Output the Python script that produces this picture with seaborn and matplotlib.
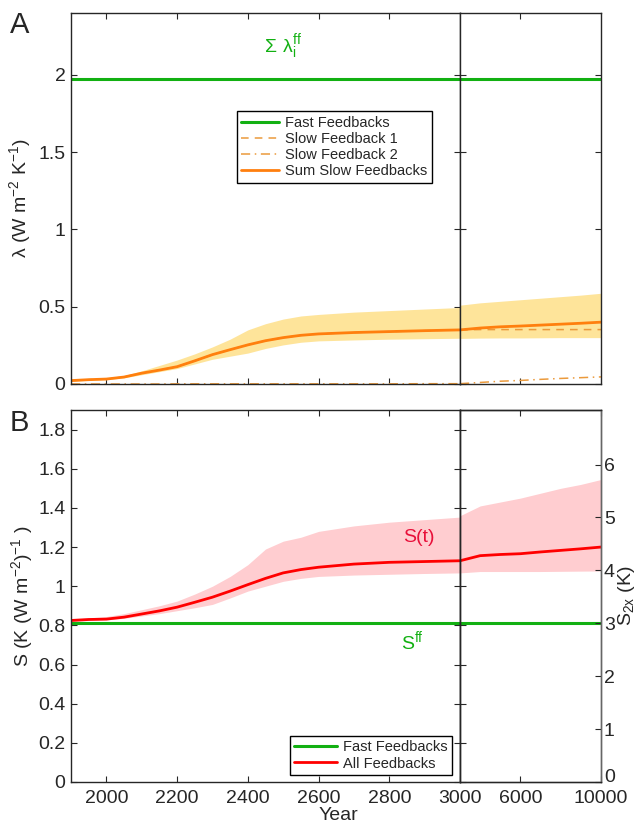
import numpy as np
import pandas as pd
import matplotlib
matplotlib.use('Agg')
import matplotlib.pyplot as plt
import matplotlib.transforms as mtransforms
import seaborn as sns

# ---------------- data ----------------
years_left = [1900, 1950, 2000, 2050, 2100, 2150, 2200, 2250, 2300, 2350,
              2400, 2450, 2500, 2550, 2600, 2700, 2800, 2900, 3000]
years_right = [3000, 4000, 5000, 6000, 7000, 8000, 9000, 10000]

lam_fast = 1.97
lam_sum_left = [0.022, 0.028, 0.032, 0.045, 0.070, 0.090, 0.112, 0.150, 0.190, 0.222,
                0.253, 0.280, 0.300, 0.315, 0.324, 0.333, 0.339, 0.345, 0.350]
lam_hi_left = [0.025, 0.032, 0.040, 0.055, 0.085, 0.120, 0.155, 0.195, 0.240, 0.290,
               0.350, 0.390, 0.420, 0.440, 0.450, 0.465, 0.475, 0.485, 0.495]
lam_lo_left = [0.017, 0.024, 0.028, 0.040, 0.060, 0.080, 0.100, 0.130, 0.160, 0.180,
               0.200, 0.230, 0.253, 0.270, 0.279, 0.285, 0.290, 0.293, 0.296]
slow1_left = lam_sum_left
slow2_left = [0.0, 0.0, 0.0, 0.0, 0.0, 0.0, 0.001, 0.001, 0.001, 0.001,
              0.001, 0.001, 0.001, 0.001, 0.001, 0.001, 0.001, 0.002, 0.002]

lam_sum_right = [0.350, 0.362, 0.370, 0.375, 0.381, 0.387, 0.393, 0.400]
lam_hi_right = [0.510, 0.525, 0.535, 0.545, 0.555, 0.565, 0.575, 0.587]
lam_lo_right = [0.295, 0.297, 0.298, 0.298, 0.299, 0.300, 0.300, 0.300]
slow1_right = [0.350, 0.352, 0.352, 0.352, 0.352, 0.352, 0.352, 0.352]
slow2_right = [0.002, 0.010, 0.018, 0.023, 0.030, 0.036, 0.041, 0.046]

S_fast = 0.81
S_left = [0.825, 0.830, 0.832, 0.842, 0.858, 0.874, 0.893, 0.918, 0.944, 0.975,
          1.008, 1.040, 1.068, 1.085, 1.097, 1.113, 1.122, 1.126, 1.130]
S_hi_left = [0.830, 0.838, 0.845, 0.860, 0.880, 0.900, 0.924, 0.960, 1.000, 1.050,
             1.110, 1.190, 1.230, 1.250, 1.280, 1.308, 1.327, 1.340, 1.353]
S_lo_left = [0.820, 0.825, 0.828, 0.836, 0.848, 0.860, 0.875, 0.890, 0.907, 0.940,
             0.975, 1.000, 1.025, 1.040, 1.050, 1.057, 1.061, 1.065, 1.068]
S_right = [1.130, 1.156, 1.162, 1.166, 1.175, 1.183, 1.191, 1.200]
S_hi_right = [1.360, 1.410, 1.430, 1.450, 1.475, 1.500, 1.520, 1.545]
S_lo_right = [1.068, 1.075, 1.075, 1.075, 1.075, 1.076, 1.077, 1.078]

F2x = 3.7  # conversion to S_2x (K)

left_ticks = [2000, 2200, 2400, 2600, 2800, 3000]
right_ticks = [6000, 10000]

# ---------------- style ----------------
sns.set_style('ticks')
plt.rcParams['font.family'] = ['Liberation Sans', 'DejaVu Sans']
plt.rcParams['mathtext.default'] = 'regular'
plt.rcParams['axes.linewidth'] = 1.0

GREEN = '#12b012'
ORANGE = '#ff7f0e'
ORANGE_LT = '#eb9a3c'
YELLOW = '#fee49a'
RED = '#ff0000'
PINK = '#ffcdd0'
TS = 14   # tick label size
LS = 14   # axis label size
LEG = 10.5

W, H = 644, 825
fig = plt.figure(figsize=(W / 100, H / 100), dpi=100)


def ax_at(x0, y0, x1, y1):
    return fig.add_axes([x0 / W, 1 - y1 / H, (x1 - x0) / W, (y1 - y0) / H])


XL, XD, XR = 71, 460, 601
axAL = ax_at(XL, 13, XD, 384)
axAR = ax_at(XD, 13, XR, 384)
axBL = ax_at(XL, 410, XD, 782)
axBR = ax_at(XD, 410, XR, 782)

dfL = pd.DataFrame({'year': years_left, 'sum': lam_sum_left, 's1': slow1_left,
                    's2': slow2_left, 'S': S_left})
dfR = pd.DataFrame({'year': years_right, 'sum': lam_sum_right, 's1': slow1_right,
                    's2': slow2_right, 'S': S_right})

# ---------------- panel A ----------------
for ax, yrs, lo, hi, df, xlim in [
        (axAL, years_left, lam_lo_left, lam_hi_left, dfL, (1900, 3000)),
        (axAR, years_right, lam_lo_right, lam_hi_right, dfR, (3000, 10000))]:
    ax.fill_between(yrs, lo, hi, color=YELLOW, lw=0)
    sns.lineplot(x=[xlim[0], xlim[1]], y=[lam_fast, lam_fast], ax=ax, color=GREEN,
                 lw=2.2, label='Fast Feedbacks')
    sns.lineplot(data=df, x='year', y='s1', ax=ax, color=ORANGE_LT, lw=1.1,
                 ls=(0, (5, 4)), label='Slow Feedback 1')
    sns.lineplot(data=df, x='year', y='s2', ax=ax, color=ORANGE_LT, lw=1.1,
                 ls=(0, (6, 3, 1, 3)), label='Slow Feedback 2')
    sns.lineplot(data=df, x='year', y='sum', ax=ax, color=ORANGE, lw=2.0,
                 label='Sum Slow Feedbacks')
    ax.set_xlim(*xlim)
    ax.set_ylim(0, 2.4)
    ax.set_yticks([0, 0.5, 1, 1.5, 2])
    ax.set_xlabel('')
    ax.set_ylabel('')

axAL.set_yticklabels(['0', '0.5', '1', '1.5', '2'])
axAL.set_xticks(left_ticks[:-1])
axAL.set_xticklabels([])
axAR.set_xticks(right_ticks[:-1])
axAR.set_xticklabels([])
axAR.set_yticklabels([])
axAR.get_legend().remove()
axAL.legend(loc='upper left', bbox_to_anchor=(0.427, 0.735), fontsize=LEG,
            frameon=True, fancybox=False, edgecolor='black', framealpha=1,
            handlelength=2.6, borderpad=0.3, labelspacing=0.15, handletextpad=0.4,
            borderaxespad=0)
axAL.get_legend().get_frame().set_linewidth(1.0)
axAL.set_ylabel(r'$\lambda$ (W m$^{-2}$ K$^{-1}$)', fontsize=LS, labelpad=4)
axAL.text(2500, 2.18, r'$\Sigma\ \lambda_i^{ff}$', color=GREEN, fontsize=LS,
          ha='center', va='center')

# ---------------- panel B ----------------
for ax, yrs, lo, hi, df, xlim in [
        (axBL, years_left, S_lo_left, S_hi_left, dfL, (1900, 3000)),
        (axBR, years_right, S_lo_right, S_hi_right, dfR, (3000, 10000))]:
    ax.fill_between(yrs, lo, hi, color=PINK, lw=0)
    sns.lineplot(x=[xlim[0], xlim[1]], y=[S_fast, S_fast], ax=ax, color=GREEN,
                 lw=2.2, label='Fast Feedbacks')
    sns.lineplot(data=df, x='year', y='S', ax=ax, color=RED, lw=2.0,
                 label='All Feedbacks')
    ax.set_xlim(*xlim)
    ax.set_ylim(0, 1.9)
    ax.set_yticks(np.arange(0, 1.81, 0.2))
    ax.set_xlabel('')
    ax.set_ylabel('')

axBL.set_yticklabels(['0', '0.2', '0.4', '0.6', '0.8', '1', '1.2', '1.4', '1.6', '1.8'])
axBL.set_xticks(left_ticks)
axBL.set_xticklabels([str(t) for t in left_ticks])
axBR.set_xticks(right_ticks)
axBR.set_xticklabels([str(t) for t in right_ticks])
axBR.set_yticklabels([])
axBR.get_legend().remove()
axBL.legend(loc='lower left', bbox_to_anchor=(0.563, 0.019), fontsize=LEG,
            frameon=True, fancybox=False, edgecolor='black', framealpha=1,
            handlelength=2.9, borderpad=0.3, labelspacing=0.15, handletextpad=0.4,
            borderaxespad=0)
axBL.get_legend().get_frame().set_linewidth(1.0)
axBL.set_ylabel(r'S (K (W m$^{-2}$)$^{-1}$ )', fontsize=LS, labelpad=2)
axBL.text(2885, 1.25, 'S(t)', color='#e8103a', fontsize=LS, ha='center', va='center')
axBL.text(2865, 0.72, r'S$^{ff}$', color=GREEN, fontsize=LS, ha='center', va='center')

# right axis S_2x
axT = axBR.twinx()
axT.set_ylim(0, 1.9 * F2x)
axT.set_yticks([0, 1, 2, 3, 4, 5, 6])
axT.set_yticklabels(['0', '1', '2', '3', '4', '5', '6'])
axT.tick_params(axis='y', direction='in', length=4, labelsize=TS, pad=2)
axT.set_ylabel(r'S$_{2x}$ (K)', fontsize=LS, labelpad=1)
axT.spines['right'].set_color('#666666')
axBR.spines['bottom'].set_color('#777777')
axBR.spines['right'].set_color('#666666')

# ticks
for ax in [axAL, axAR, axBL, axBR]:
    ax.tick_params(axis='both', which='both', direction='in', length=4,
                   top=True, right=True, left=True, labelsize=TS, pad=4)
    ax.tick_params(axis='x', pad=6)
axBR.tick_params(axis='y', right=False)
axAR.tick_params(axis='y', labelleft=False)
axBR.tick_params(axis='y', labelleft=False)

# lift the S_2x "0" label a little so it clears the "10000" year label
zero_lbl = axT.yaxis.get_major_ticks()[0].label2
zero_lbl.set_transform(zero_lbl.get_transform() +
                       mtransforms.ScaledTranslation(0, 5 / 72, fig.dpi_scale_trans))

fig.text(338 / W, 1 - 816 / H, 'Year', ha='center', va='center', fontsize=14)
fig.text(10 / W, 1 - 25 / H, 'A', ha='left', va='center', fontsize=21)
fig.text(10 / W, 1 - 423 / H, 'B', ha='left', va='center', fontsize=21)

fig.savefig('out.png', dpi=100)
